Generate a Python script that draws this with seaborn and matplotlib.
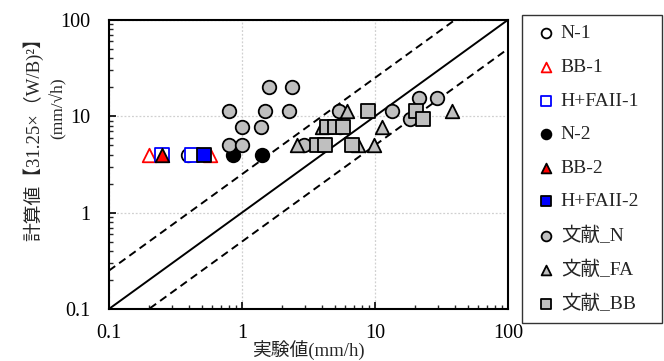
import matplotlib
matplotlib.use("Agg")
import matplotlib.pyplot as plt
import numpy as np
import seaborn as sns

# experiment series (x = measured mm/h, y = calculated)
n1_x = [0.39]
n1_y = [4.0]
bb1_x = [0.20, 0.58]
bb1_y = [4.0, 4.0]
hf1_x = [0.25, 0.42]
hf1_y = [4.0, 4.0]
n2_x = [0.855, 1.41]
n2_y = [4.0, 4.0]
bb2_x = [0.25]
bb2_y = [4.0]
hf2_x = [0.52]
hf2_y = [4.0]

# literature series
lit_n_x = [1.6, 2.4, 0.8, 1.5, 2.25, 1.0, 1.4, 0.8, 1.0, 2.95, 5.4, 13.4, 21.4, 29.5, 18.2, 5.45]
lit_n_y = [20, 20, 11.2, 11.2, 11.2, 7.8, 7.8, 5.0, 5.0, 5.0, 11.2, 11.2, 15.5, 15.5, 9.4, 7.8]
lit_fa_x = [2.6, 4.0, 6.2, 7.4, 9.8, 11.3, 37.9]
lit_fa_y = [5.0, 7.8, 11.2, 5.0, 5.0, 7.8, 11.2]
lit_bb_x = [3.65, 4.2, 4.36, 5.0, 5.74, 6.7, 8.9, 20.3, 23.0]
lit_bb_y = [5.0, 5.0, 7.8, 7.8, 7.8, 5.0, 11.2, 11.4, 9.4]

upper_factor = 2.5
lower_factor = 0.5

sns.set_style("ticks")
plt.rcParams["font.family"] = ["Liberation Serif", "Noto Sans CJK JP"]
plt.rcParams["xtick.direction"] = "in"
plt.rcParams["ytick.direction"] = "in"

fig = plt.figure(figsize=(6.64, 3.61), dpi=100)
ax = fig.add_axes([0.164, 0.144, 0.601, 0.801])

s = 95
lw = 1.3
gray = "#BFBFBF"

sns.scatterplot(x=n1_x, y=n1_y, marker="o", s=s, facecolor="white", edgecolor="black", linewidth=lw, ax=ax, label="N-1", zorder=3)
sns.scatterplot(x=bb1_x, y=bb1_y, marker="^", s=s, facecolor="white", edgecolor="red", linewidth=lw, ax=ax, label="BB-1", zorder=3)
sns.scatterplot(x=hf1_x, y=hf1_y, marker="s", s=s, facecolor="white", edgecolor="blue", linewidth=lw, ax=ax, label="H+FAII-1", zorder=3)
sns.scatterplot(x=n2_x, y=n2_y, marker="o", s=s, color="black", edgecolor="black", linewidth=lw, ax=ax, label="N-2", zorder=3)
sns.scatterplot(x=bb2_x, y=bb2_y, marker="^", s=s, color="red", edgecolor="black", linewidth=lw, ax=ax, label="BB-2", zorder=3)
sns.scatterplot(x=hf2_x, y=hf2_y, marker="s", s=s, color="blue", edgecolor="black", linewidth=lw, ax=ax, label="H+FAII-2", zorder=3)
sns.scatterplot(x=lit_n_x, y=lit_n_y, marker="o", s=s, color=gray, edgecolor="black", linewidth=lw, ax=ax, label="文献_N", zorder=3)
sns.scatterplot(x=lit_fa_x, y=lit_fa_y, marker="^", s=s, color=gray, edgecolor="black", linewidth=lw, ax=ax, label="文献_FA", zorder=3)
sns.scatterplot(x=lit_bb_x, y=lit_bb_y, marker="s", s=s, color=gray, edgecolor="black", linewidth=lw, ax=ax, label="文献_BB", zorder=3)

# 1:1 line and the two dashed bounds
line_x = np.array([0.1, 100])
ax.plot(line_x, line_x, color="black", lw=1.4, zorder=2)
ax.plot(line_x, line_x * upper_factor, color="black", lw=1.4, ls=(0, (4, 2.5)), zorder=2)
ax.plot(line_x, line_x * lower_factor, color="black", lw=1.4, ls=(0, (4, 2.5)), zorder=2)

ax.set_xscale("log")
ax.set_yscale("log")
ax.set_xlim(0.1, 100)
ax.set_ylim(0.1, 100)
ax.set_xticks([0.1, 1, 10, 100])
ax.set_xticklabels(["0.1", "1", "10", "100"])
ax.set_yticks([0.1, 1, 10, 100])
ax.set_yticklabels(["0.1", "1", "10", "100"])
ax.grid(True, which="major", color="#D0D0D0", ls=(0, (1.5, 1.5)), lw=0.9)
ax.tick_params(which="major", length=5, width=1.2, labelsize=14.5, colors="black")
ax.tick_params(which="minor", length=3, width=1.0)
ax.tick_params(axis="x", pad=11)
ax.tick_params(axis="y", pad=13)
for sp in ax.spines.values():
    sp.set_linewidth(1.5)
    sp.set_color("black")

ax.set_xlabel("")
ax.set_ylabel("")
fig.text(0.465, 0.002, "実験値(mm/h)", ha="center", va="bottom", fontsize=13.5)
fig.text(0.05, 0.626, "計算値【31.25×（W/B)²】", rotation=90, ha="center", va="center", fontsize=13.5)
fig.text(0.087, 0.70, "(mm/√h)", rotation=90, ha="center", va="center", fontsize=12.5)

ax.get_legend().remove()
handles, labels = ax.get_legend_handles_labels()
leg = fig.legend(handles, labels, loc="upper left", bbox_to_anchor=(0.786, 0.1, 0.211, 0.858),
                 mode="expand", frameon=True, fancybox=False, edgecolor="black", fontsize=14,
                 labelspacing=0.82, handletextpad=0.0, handlelength=1.5,
                 borderpad=0.5, markerscale=0.72, borderaxespad=0)
leg.get_frame().set_linewidth(1.0)

fig.savefig("out.png", dpi=100)
